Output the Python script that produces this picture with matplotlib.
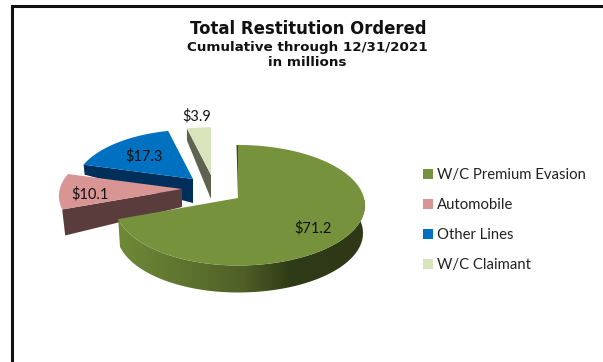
import numpy as np
import matplotlib.pyplot as plt
from matplotlib.patches import Patch, Polygon
from matplotlib.colors import LinearSegmentedColormap

categories = ['W/C Premium Evasion', 'Automobile', 'Other Lines', 'W/C Claimant']
values = [71.2, 10.1, 17.3, 3.9]
value_labels = ['$71.2', '$10.1', '$17.3', '$3.9']

W, H = 603, 362
top_colors = ['#76923c', '#d99594', '#0070c0', '#d7e4bc']
wall_colors = [None, '#5a3c3c', '#002f5c', '#5e6350']

# apex of every exploded slice in pixels and its size factor
apex = [(238, 198), (182, 189), (193, 179), (211, 175)]
scale = [1.0, 0.97, 0.93, 0.9]
label_pos = [(313, 228), (90, 194), (144, 156), (197, 116)]

RX, RY, K = 126, 59.4, 0.12  # disc size and perspective strength
GREEN_DEPTH = 28


def project(theta, center, s=1.0, left=1.0):
    # theta in degrees, clockwise from the top of the disc
    t = np.radians(theta)
    u, v = np.sin(t), -np.cos(t)
    p = s / (1 - K * v)
    return center[0] + RX * u * p * np.where(u < 0, left, 1.0), center[1] + RY * v * p


def top_face(t0, t1, center, s, left=1.0):
    th = np.linspace(t0, t1, 200)
    x, y = project(th, center, s, left)
    return np.vstack([[center], np.column_stack([x, y])])


plt.rcParams['font.family'] = ['Lato', 'DejaVu Sans']
fig = plt.figure(figsize=(W / 100, H / 100), dpi=100)
ax = fig.add_axes([0, 0, 1, 1])
ax.set_xlim(0, W)
ax.set_ylim(H, 0)
ax.axis('off')

# slice limits in degrees
edges = np.concatenate([[0], np.cumsum(values)]) / np.sum(values) * 360

# frame, only top and left are inside the canvas
ax.plot([11.5, 11.5, W], [H, 5.5, 5.5], color='#111111', lw=2.2, solid_joinstyle='miter')

# back slices first so the front ones sit over them
t0, t1 = edges[3], edges[4]
p0 = project(t0, apex[3], scale[3])
ax.add_patch(Polygon([p0, apex[3], (apex[3][0], apex[3][1] + 24), (p0[0], p0[1] + 12)],
                     fc=wall_colors[3], lw=0))
ax.add_patch(Polygon(top_face(t0, t1, apex[3], scale[3]), fc=top_colors[3], lw=0))

t0, t1 = edges[2], edges[3]
p0 = project(t0, apex[2], scale[2])
ax.add_patch(Polygon([p0, apex[2], (apex[2][0], apex[2][1] + 24), (p0[0] + 1, p0[1] + 10)],
                     fc=wall_colors[2], lw=0))
ax.add_patch(Polygon(top_face(t0, t1, apex[2], scale[2]), fc=top_colors[2], lw=0))

t0, t1 = edges[1], edges[2]
p0 = project(t0, apex[1], scale[1])
ax.add_patch(Polygon([p0, apex[1], (apex[1][0], apex[1][1] + 18), (p0[0] + 3, p0[1] + 26)],
                     fc=wall_colors[1], lw=0))
ax.add_patch(Polygon(top_face(t0, t1, apex[1], scale[1]), fc=top_colors[1], lw=0))

# big slice: rim first, shaded left to right, then the top
t1 = edges[1]
th = np.linspace(70, t1, 300)
xt, yt = project(th, apex[0], 1.0, 0.97)
xb, yb = project(th, (apex[0][0], apex[0][1] + GREEN_DEPTH), 0.985, 0.97)
rim = Polygon(np.vstack([np.column_stack([xt, yt]), np.column_stack([xb, yb])[::-1]]),
              fc='none', lw=0)
ax.add_patch(rim)
shade = LinearSegmentedColormap.from_list('rim', [(0, '#6f8a38'), (0.25, '#5f7530'), (0.5, '#4f6027'),
                                                  (0.7, '#2f3a17'), (1, '#2e3818')])
img = ax.imshow(np.linspace(0, 1, 256)[None, :], cmap=shade, vmin=0, vmax=1, aspect='auto',
                extent=(118, 366, 300, 200), zorder=1)
img.set_clip_path(rim)
ax.set_xlim(0, W)
ax.set_ylim(H, 0)

# thin inner wall along the cut at twelve o'clock
ax.add_patch(Polygon([(236.5, 145), (238, 198), (239, 198), (238, 145)], fc='#3c4a1c', lw=0, zorder=2))
ax.add_patch(Polygon(top_face(edges[0], t1, apex[0], scale[0], 0.97), fc=top_colors[0], lw=0, zorder=2))

for (x, y), txt in zip(label_pos, value_labels):
    ax.text(x, y, txt, ha='center', va='center', fontsize=10.5, color='#111111', zorder=3)

# titles
ax.text(308, 29, 'Total Restitution Ordered', ha='center', va='center', fontsize=11.9,
        fontweight='bold', family='DejaVu Sans', color='#111111')
ax.text(307, 47, 'Cumulative through 12/31/2021', ha='center', va='center', fontsize=9.7,
        fontweight='bold', family='DejaVu Sans', color='#111111')
ax.text(307.5, 63, 'in millions', ha='center', va='center', fontsize=9.7,
        fontweight='bold', family='DejaVu Sans', color='#111111')

handles = [Patch(fc=c, lw=0) for c in top_colors]
ax.legend(handles, categories, loc='upper left', bbox_to_anchor=(423 / W, 1 - 168 / H),
          frameon=False, fontsize=10.7, labelcolor='#222222', handlelength=0.67, handleheight=0.67,
          handletextpad=0.28, labelspacing=1.08, borderpad=0, borderaxespad=0)

fig.savefig('out.png', dpi=100)
